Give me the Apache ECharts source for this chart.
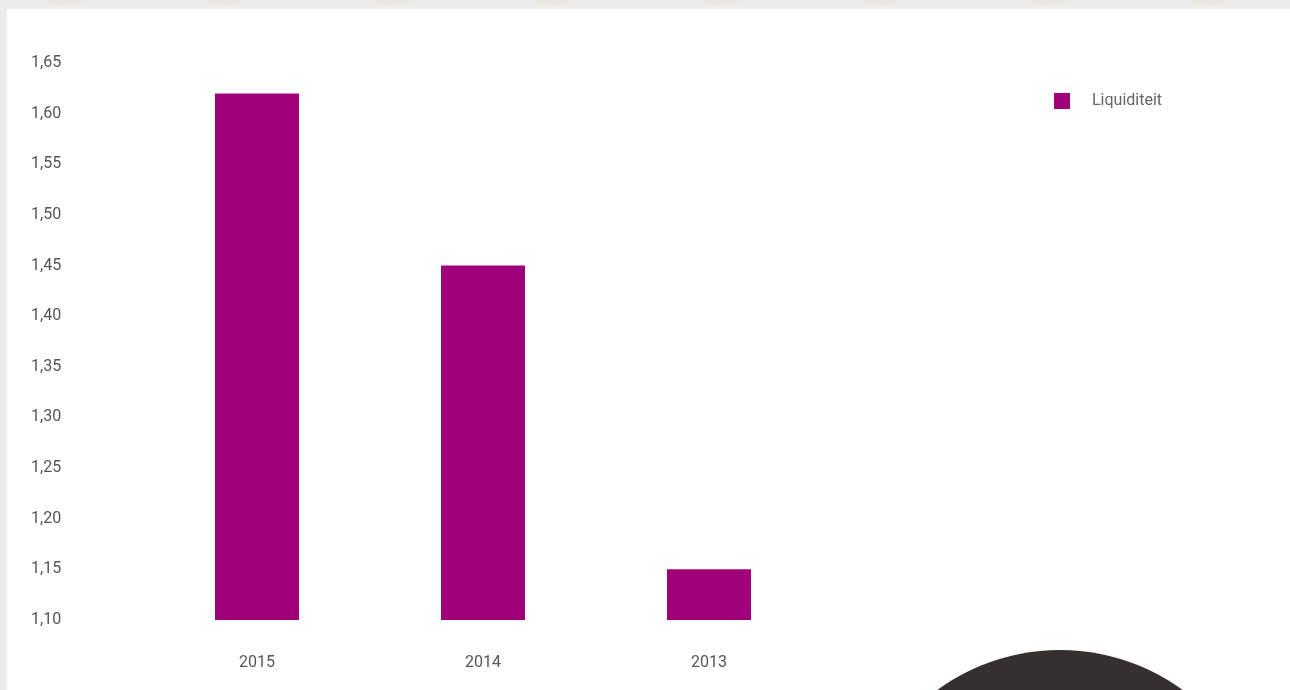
<!DOCTYPE html>
<html><head><meta charset="utf-8">
<script src="https://cdn.jsdelivr.net/npm/echarts@6/dist/echarts.min.js"></script>
<style>html,body{margin:0;padding:0;background:#ececec;}#c{width:1290px;height:690px;}</style>
</head><body><div id="c"></div>
<script>
const categories = ['2015', '2014', '2013'];
const liquiditeit = [1.62, 1.45, 1.15];
const seriesName = 'Liquiditeit';
const yMin = 1.10, yMax = 1.65, yStep = 0.05;

const chart = echarts.init(document.getElementById('c'));
const topCircles = [62, 226, 390, 554, 718, 882, 1046, 1210].map(x => ({
  type: 'circle', shape: {cx: x, cy: -60, r: 65}, style: {fill: '#ede8df'}, z: -20, silent: true
}));
chart.setOption({
  backgroundColor: '#ececec',
  animation: false,
  graphic: [
    ...topCircles,
    {type: 'rect', shape: {x: 7, y: 9, width: 1290, height: 690}, style: {fill: '#ffffff'}, z: -10, silent: true},
    {type: 'circle', shape: {cx: 1060, cy: 858, r: 208}, style: {fill: '#35302d'}, z: -5, silent: true}
  ],
  legend: {
    data: [seriesName], left: 1049, top: 88, icon: 'rect', itemWidth: 16, itemHeight: 16,
    textStyle: {color: '#666', fontSize: 16, padding: [0, 0, 0, 17], fontFamily: 'Roboto, sans-serif'}
  },
  grid: {left: 144, right: 468, top: 63, bottom: 70},
  xAxis: {
    type: 'category', data: categories, z: 5,
    axisLine: {show: false}, axisTick: {show: false},
    axisLabel: {color: '#555', fontSize: 16, margin: 35, fontFamily: 'Roboto, sans-serif'}
  },
  yAxis: {
    type: 'value', min: yMin, max: yMax, interval: yStep, z: 5,
    splitLine: {show: false}, axisLine: {show: false}, axisTick: {show: false},
    axisLabel: {
      color: '#555', fontSize: 16, align: 'left', margin: 113, fontFamily: 'Roboto, sans-serif',
      formatter: v => v.toFixed(2).replace('.', ',')
    }
  },
  series: [{
    name: seriesName, type: 'bar', data: liquiditeit, barWidth: 84,
    itemStyle: {color: '#a0007a'}, z: 3
  }]
});
</script></body></html>
